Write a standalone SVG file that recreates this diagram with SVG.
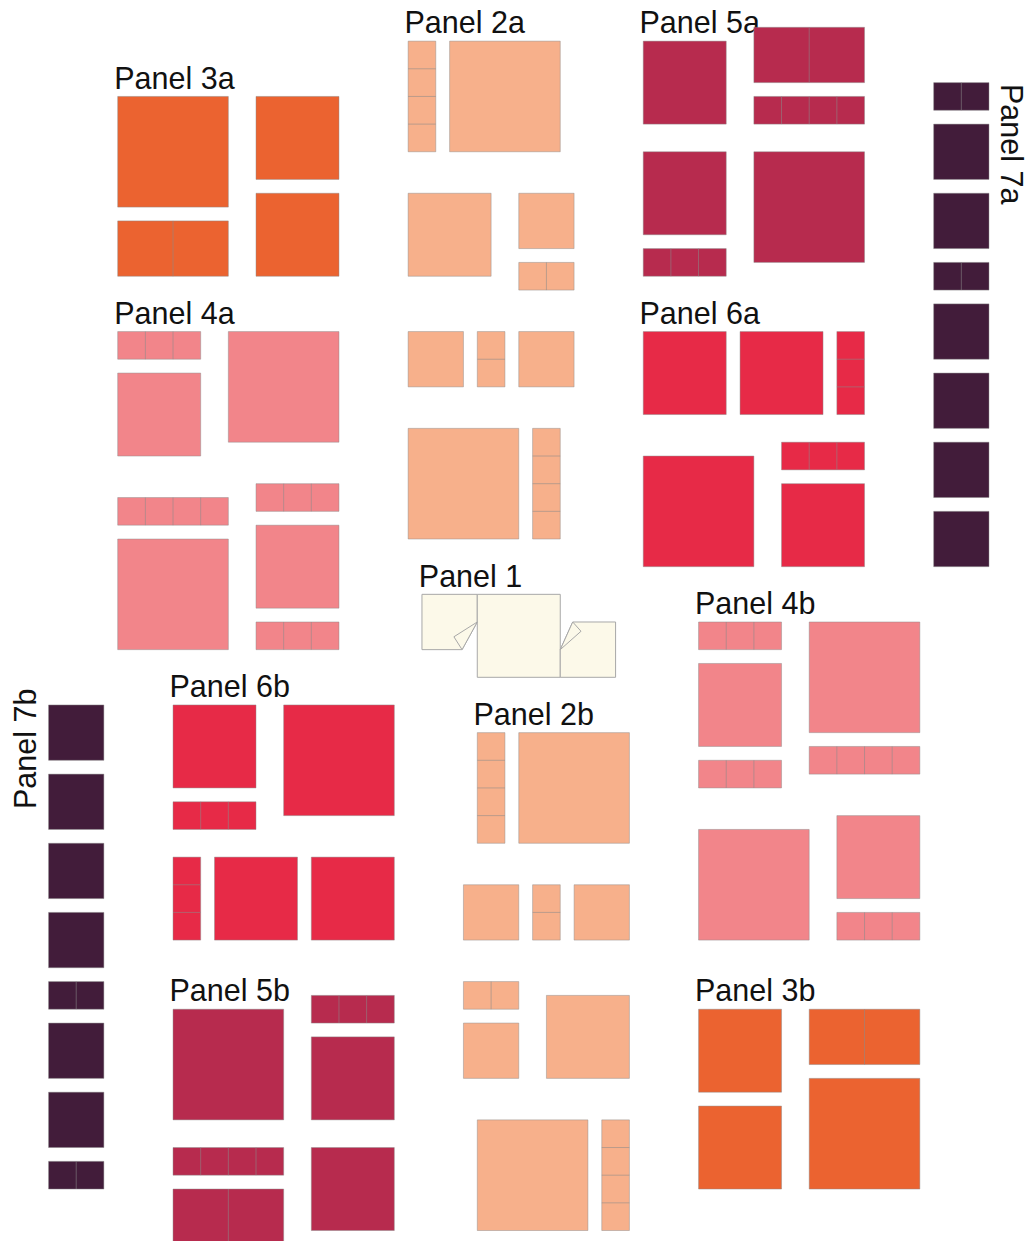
<svg xmlns="http://www.w3.org/2000/svg" width="1028" height="1241" viewBox="0 0 1028 1241">
<style>
rect, polygon { stroke:#8a8a8a; stroke-opacity:.45; stroke-width:1; vector-effect:non-scaling-stroke; }
.d { fill:none; stroke:#8a8a8a; stroke-opacity:.55; stroke-width:1; vector-effect:non-scaling-stroke; }
.o { fill:#eb6330; } .p { fill:#f7b08b; } .c { fill:#b72b4e; } .k { fill:#f2858a; } .e { fill:#e72a47; } .v { fill:#421c3a; }
.y { fill:#fcf9e9; stroke:#a8a8a8; stroke-opacity:1; }
.t { font-family:"Liberation Sans", Arial, sans-serif; font-size:30.5px; fill:#111; }
</style>

<g id="labels">
<text class="t" x="114.2" y="88.5">Panel 3a</text>
<text class="t" x="404.5" y="33.3">Panel 2a</text>
<text class="t" x="639.5" y="33.3">Panel 5a</text>
<text class="t" x="114.2" y="323.5">Panel 4a</text>
<text class="t" x="639.5" y="323.5">Panel 6a</text>
<text class="t" x="418.8" y="586.7">Panel 1</text>
<text class="t" x="695" y="613.5">Panel 4b</text>
<text class="t" x="169.5" y="697">Panel 6b</text>
<text class="t" x="473.5" y="725">Panel 2b</text>
<text class="t" x="169.5" y="1001">Panel 5b</text>
<text class="t" x="695" y="1001">Panel 3b</text>
<text class="t" transform="translate(1001,84) rotate(90)">Panel 7a</text>
<text class="t" transform="translate(35.5,809) rotate(-90)">Panel 7b</text>
</g>

<g transform="matrix(13.83 0 0 13.83 117.7 27.3)">
<g id="panel3a" class="o">
<rect x="0" y="5" width="8" height="8"/><rect x="10" y="5" width="6" height="6"/><rect x="10" y="12" width="6" height="6"/><rect x="0" y="14" width="8" height="4"/>
<path class="d" d="M4 14V18"/>
</g>
<g id="panel2a" class="p">
<rect x="21" y="1" width="2" height="8"/><path class="d" d="M21 3H23M21 5H23M21 7H23"/>
<rect x="24" y="1" width="8" height="8"/>
<rect x="21" y="12" width="6" height="6"/>
<rect x="29" y="12" width="4" height="4"/>
<rect x="29" y="17" width="4" height="2"/><path class="d" d="M31 17V19"/>
<rect x="21" y="22" width="4" height="4"/>
<rect x="26" y="22" width="2" height="4"/><path class="d" d="M26 24H28"/>
<rect x="29" y="22" width="4" height="4"/>
<rect x="21" y="29" width="8" height="8"/>
<rect x="30" y="29" width="2" height="8"/><path class="d" d="M30 31H32M30 33H32M30 35H32"/>
</g>
<g id="panel5a" class="c">
<rect x="38" y="1" width="6" height="6"/>
<rect x="46" y="0" width="8" height="4"/><path class="d" d="M50 0V4"/>
<rect x="46" y="5" width="8" height="2"/><path class="d" d="M48 5V7M50 5V7M52 5V7"/>
<rect x="38" y="9" width="6" height="6"/>
<rect x="38" y="16" width="6" height="2"/><path class="d" d="M40 16V18M42 16V18"/>
<rect x="46" y="9" width="8" height="8"/>
</g>
<g id="panel7a" class="v">
<rect x="59" y="4" width="4" height="2"/><path class="d" d="M61 4V6"/>
<rect x="59" y="7" width="4" height="4"/>
<rect x="59" y="12" width="4" height="4"/>
<rect x="59" y="17" width="4" height="2"/><path class="d" d="M61 17V19"/>
<rect x="59" y="20" width="4" height="4"/>
<rect x="59" y="25" width="4" height="4"/>
<rect x="59" y="30" width="4" height="4"/>
<rect x="59" y="35" width="4" height="4"/>
</g>
<g id="panel4a" class="k">
<rect x="0" y="22" width="6" height="2"/><path class="d" d="M2 22V24M4 22V24"/>
<rect x="0" y="25" width="6" height="6"/>
<rect x="8" y="22" width="8" height="8"/>
<rect x="0" y="34" width="8" height="2"/><path class="d" d="M2 34V36M4 34V36M6 34V36"/>
<rect x="0" y="37" width="8" height="8"/>
<rect x="10" y="33" width="6" height="2"/><path class="d" d="M12 33V35M14 33V35"/>
<rect x="10" y="36" width="6" height="6"/>
<rect x="10" y="43" width="6" height="2"/><path class="d" d="M12 43V45M14 43V45"/>
</g>
<g id="panel6a" class="e">
<rect x="38" y="22" width="6" height="6"/>
<rect x="45" y="22" width="6" height="6"/>
<rect x="52" y="22" width="2" height="6"/><path class="d" d="M52 24H54M52 26H54"/>
<rect x="38" y="31" width="8" height="8"/>
<rect x="48" y="30" width="6" height="2"/><path class="d" d="M50 30V32M52 30V32"/>
<rect x="48" y="33" width="6" height="6"/>
</g>
<g id="panel1">
<polygon class="y" points="22,41 26,41 26,43 24.9,45 22,45"/>
<rect class="y" x="26" y="41" width="6" height="6"/>
<polygon class="y" points="32.9,43 36,43 36,47 32,47 32,45"/>
<polygon class="y" points="26,43 24.31,44.07 24.9,45"/>
<polygon class="y" points="32.9,43 33.5,43.67 32,45"/>
</g>
<g id="panel4b" class="k">
<rect x="42" y="43" width="6" height="2"/><path class="d" d="M44 43V45M46 43V45"/>
<rect x="42" y="46" width="6" height="6"/>
<rect x="42" y="53" width="6" height="2"/><path class="d" d="M44 53V55M46 53V55"/>
<rect x="50" y="43" width="8" height="8"/>
<rect x="50" y="52" width="8" height="2"/><path class="d" d="M52 52V54M54 52V54M56 52V54"/>
<rect x="42" y="58" width="8" height="8"/>
<rect x="52" y="57" width="6" height="6"/>
<rect x="52" y="64" width="6" height="2"/><path class="d" d="M54 64V66M56 64V66"/>
</g>
<g id="panel6b" class="e">
<rect x="4" y="49" width="6" height="6"/>
<rect x="4" y="56" width="6" height="2"/><path class="d" d="M6 56V58M8 56V58"/>
<rect x="12" y="49" width="8" height="8"/>
<rect x="4" y="60" width="2" height="6"/><path class="d" d="M4 62H6M4 64H6"/>
<rect x="7" y="60" width="6" height="6"/>
<rect x="14" y="60" width="6" height="6"/>
</g>
<g id="panel7b" class="v">
<rect x="-5" y="49" width="4" height="4"/>
<rect x="-5" y="54" width="4" height="4"/>
<rect x="-5" y="59" width="4" height="4"/>
<rect x="-5" y="64" width="4" height="4"/>
<rect x="-5" y="69" width="4" height="2"/><path class="d" d="M-3 69V71"/>
<rect x="-5" y="72" width="4" height="4"/>
<rect x="-5" y="77" width="4" height="4"/>
<rect x="-5" y="82" width="4" height="2"/><path class="d" d="M-3 82V84"/>
</g>
<g id="panel2b" class="p">
<rect x="26" y="51" width="2" height="8"/><path class="d" d="M26 53H28M26 55H28M26 57H28"/>
<rect x="29" y="51" width="8" height="8"/>
<rect x="25" y="62" width="4" height="4"/>
<rect x="30" y="62" width="2" height="4"/><path class="d" d="M30 64H32"/>
<rect x="33" y="62" width="4" height="4"/>
<rect x="25" y="69" width="4" height="2"/><path class="d" d="M27 69V71"/>
<rect x="25" y="72" width="4" height="4"/>
<rect x="31" y="70" width="6" height="6"/>
<rect x="26" y="79" width="8" height="8"/>
<rect x="35" y="79" width="2" height="8"/><path class="d" d="M35 81H37M35 83H37M35 85H37"/>
</g>
<g id="panel5b" class="c">
<rect x="4" y="71" width="8" height="8"/>
<rect x="14" y="70" width="6" height="2"/><path class="d" d="M16 70V72M18 70V72"/>
<rect x="14" y="73" width="6" height="6"/>
<rect x="4" y="81" width="8" height="2"/><path class="d" d="M6 81V83M8 81V83M10 81V83"/>
<rect x="4" y="84" width="8" height="4"/><path class="d" d="M8 84V88"/>
<rect x="14" y="81" width="6" height="6"/>
</g>
<g id="panel3b" class="o">
<rect x="42" y="71" width="6" height="6"/>
<rect x="50" y="71" width="8" height="4"/><path class="d" d="M54 71V75"/>
<rect x="42" y="78" width="6" height="6"/>
<rect x="50" y="76" width="8" height="8"/>
</g>
</g>
</svg>
